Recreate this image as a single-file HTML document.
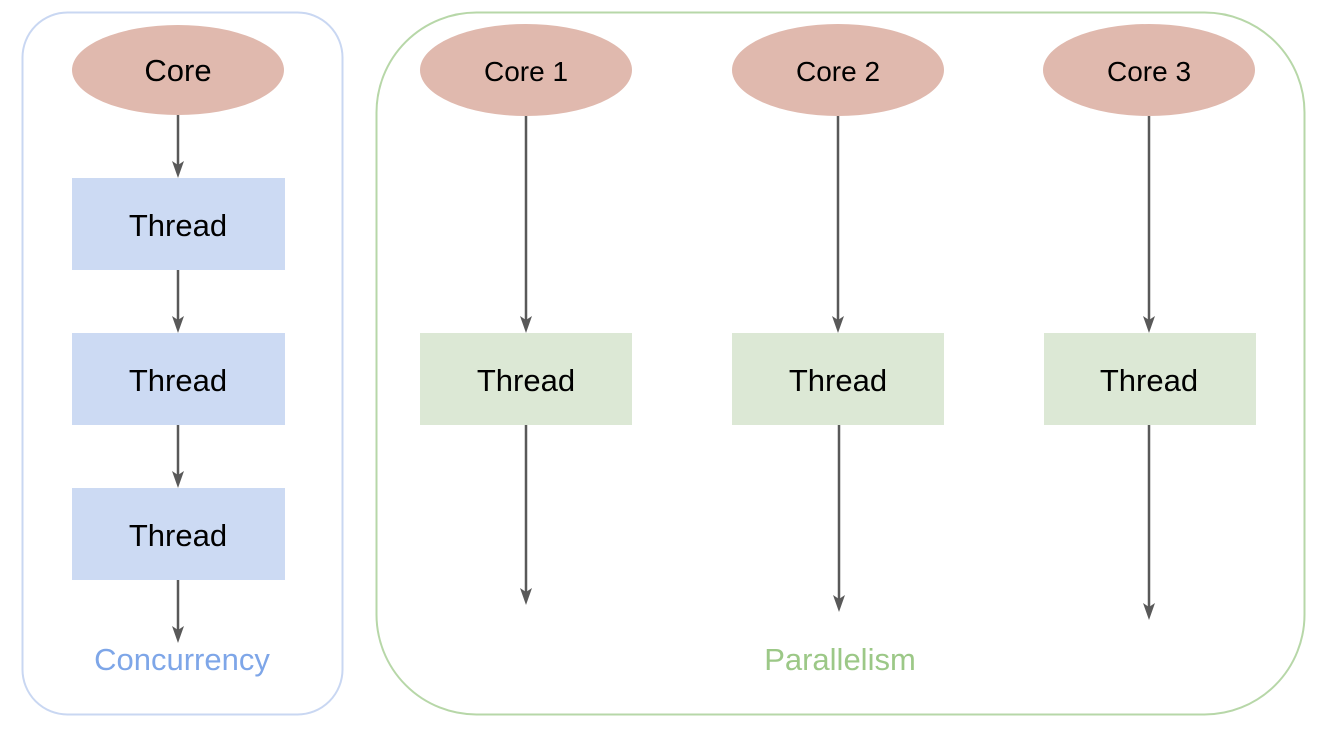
<!DOCTYPE html>
<html><head><meta charset="utf-8"><style>
html,body{margin:0;padding:0;background:#fff;}
svg{display:block;font-family:"Liberation Sans",Arial,sans-serif;}
</style></head><body>
<svg width="1324" height="734" viewBox="0 0 1324 734" xmlns="http://www.w3.org/2000/svg">
<defs>
<marker id="ah" markerWidth="12" markerHeight="16" refX="6" refY="15" orient="auto" markerUnits="userSpaceOnUse">
<path d="M0,0 L6,4 L12,0 L6,15 Z" fill="#595959" transform="rotate(-90 6 7.5)"/>
</marker>
</defs>
<rect x="22.5" y="12.5" width="320" height="702" rx="45" fill="#fff" stroke="#c9d7f2" stroke-width="2"/>
<rect x="376.5" y="12.5" width="928" height="702" rx="100" fill="#fff" stroke="#b7d7a8" stroke-width="2"/>
<g fill="#e0b9ae">
<ellipse cx="178" cy="70" rx="106" ry="45"/>
<ellipse cx="526" cy="70" rx="106" ry="46"/>
<ellipse cx="838" cy="70" rx="106" ry="46"/>
<ellipse cx="1149" cy="70" rx="106" ry="46"/>
</g>
<g fill="#ccdaf3">
<rect x="72" y="178" width="213" height="92"/>
<rect x="72" y="333" width="213" height="92"/>
<rect x="72" y="488" width="213" height="92"/>
</g>
<g fill="#dce8d5">
<rect x="420" y="333" width="212" height="92"/>
<rect x="732" y="333" width="212" height="92"/>
<rect x="1044" y="333" width="212" height="92"/>
</g>
<g stroke="#595959" stroke-width="2.5" fill="#595959">
<line x1="178" y1="115" x2="178" y2="168"/>
<line x1="178" y1="270" x2="178" y2="323"/>
<line x1="178" y1="425" x2="178" y2="478"/>
<line x1="178" y1="580" x2="178" y2="633"/>
<line x1="526" y1="116" x2="526" y2="323"/>
<line x1="838" y1="116" x2="838" y2="323"/>
<line x1="1149" y1="116" x2="1149" y2="323"/>
<line x1="526" y1="425" x2="526" y2="595"/>
<line x1="839" y1="425" x2="839" y2="602"/>
<line x1="1149" y1="425" x2="1149" y2="610"/>
</g>
<g fill="#595959">
<path d="M172,161 L178,165 L184,161 L178,178 Z"/>
<path d="M172,316 L178,320 L184,316 L178,333 Z"/>
<path d="M172,471 L178,475 L184,471 L178,488 Z"/>
<path d="M172,626 L178,630 L184,626 L178,643 Z"/>
<path d="M520,316 L526,320 L532,316 L526,333 Z"/>
<path d="M832,316 L838,320 L844,316 L838,333 Z"/>
<path d="M1143,316 L1149,320 L1155,316 L1149,333 Z"/>
<path d="M520,588 L526,592 L532,588 L526,605 Z"/>
<path d="M833,595 L839,599 L845,595 L839,612 Z"/>
<path d="M1143,603 L1149,607 L1155,603 L1149,620 Z"/>
</g>
<g font-size="31" fill="#000" text-anchor="middle">
<text x="178" y="81">Core</text>
<text x="178" y="236">Thread</text>
<text x="178" y="391">Thread</text>
<text x="178" y="546">Thread</text>
<text x="526" y="391">Thread</text>
<text x="838" y="391">Thread</text>
<text x="1149" y="391">Thread</text>
</g>
<g font-size="28" fill="#000" text-anchor="middle">
<text x="526" y="81">Core 1</text>
<text x="838" y="81">Core 2</text>
<text x="1149" y="81">Core 3</text>
</g>
<text x="182" y="670" font-size="31" fill="#7ea6e8" text-anchor="middle">Concurrency</text>
<text x="840" y="670" font-size="31" fill="#9cc887" text-anchor="middle">Parallelism</text>
</svg>
</body></html>
